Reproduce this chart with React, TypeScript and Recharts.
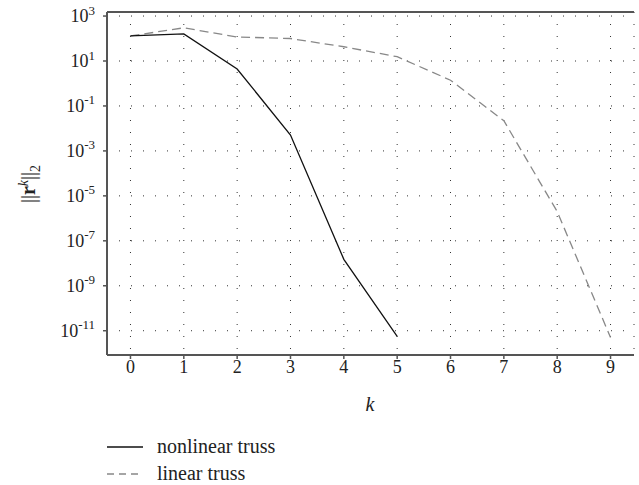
import { CartesianGrid, Line, LineChart, ReferenceLine, XAxis, YAxis } from "recharts";

// residual norm per iteration k
const iterations = [0, 1, 2, 3, 4, 5, 6, 7, 8, 9];
const nonlinearTruss = [130, 160, 4.4, 5.1e-3, 1.5e-8, 5.6e-12];
const linearTruss = [130, 300, 117, 100, 43, 15.5, 1.4, 0.022, 2e-6, 5e-12];

const xTicks = [0, 1, 2, 3, 4, 5, 6, 7, 8, 9];
const yTicks = [1e3, 1e1, 1e-1, 1e-3, 1e-5, 1e-7, 1e-9, 1e-11];

const FONT = "'Liberation Serif', 'DejaVu Serif', serif";
const AXIS = "#555";
const TEXT = "#222";

const rows = iterations.map((k, i) => ({
  k,
  nonlinear: nonlinearTruss[i],
  linear: linearTruss[i],
}));

const Y_DOMAIN: [number, number] = [Math.pow(10, -12.08), Math.pow(10, 3.18)];
const X_DOMAIN: [number, number] = [-0.44, 9.44];

function YTick({ x, y, payload }: any) {
  const exp = Math.round(Math.log10(payload.value));
  return (
    <text x={x - 6} y={y} textAnchor="end" fill={TEXT} fontFamily={FONT} fontSize={18}>
      <tspan dy="0.35em">10</tspan>
      <tspan dy="-0.6em" fontSize={13}>
        {exp}
      </tspan>
    </text>
  );
}

function XTick({ x, y, payload }: any) {
  return (
    <text x={x} y={y + 12} textAnchor="middle" fill={TEXT} fontFamily={FONT} fontSize={18}>
      {payload.value}
    </text>
  );
}

function LegendSwatch({ dashed }: { dashed?: boolean }) {
  return (
    <svg width={36} height={4} style={{ marginRight: 14 }}>
      <line
        x1={0}
        x2={36}
        y1={2}
        y2={2}
        stroke={dashed ? "#888" : "#111"}
        strokeWidth={1.5}
        strokeDasharray={dashed ? "7 5" : undefined}
      />
    </svg>
  );
}

export default function App() {
  return (
    <div style={{ position: "absolute", left: 0, top: 0, width: 639, height: 485, background: "#fff" }}>
      <LineChart width={639} height={485} data={rows} margin={{ top: 12, right: 5, left: 0, bottom: 0 }}>
        <CartesianGrid stroke="#333" strokeDasharray="1 11" strokeWidth={1} />
        <XAxis
          dataKey="k"
          type="number"
          domain={X_DOMAIN}
          ticks={xTicks}
          allowDataOverflow
          height={130}
          tick={<XTick />}
          tickSize={4}
          tickLine={{ stroke: AXIS, strokeWidth: 1.5 }}
          axisLine={{ stroke: AXIS, strokeWidth: 2 }}
        />
        <YAxis
          scale="log"
          type="number"
          domain={Y_DOMAIN}
          ticks={yTicks}
          allowDataOverflow
          width={107}
          tick={<YTick />}
          tickSize={4}
          tickLine={{ stroke: AXIS, strokeWidth: 1.5 }}
          axisLine={{ stroke: AXIS, strokeWidth: 2 }}
        />
        <YAxis
          yAxisId="right"
          orientation="right"
          scale="log"
          type="number"
          domain={Y_DOMAIN}
          width={0}
          tick={false}
          tickLine={false}
          axisLine={{ stroke: AXIS, strokeWidth: 2 }}
        />
        {/* top edge of the frame */}
        <ReferenceLine y={Y_DOMAIN[1]} stroke={AXIS} strokeWidth={2} ifOverflow="extendDomain" />
        <Line
          dataKey="linear"
          stroke="#888"
          strokeWidth={1.3}
          strokeDasharray="9 5"
          dot={false}
          isAnimationActive={false}
        />
        <Line
          dataKey="nonlinear"
          stroke="#111"
          strokeWidth={1.3}
          dot={false}
          isAnimationActive={false}
        />
      </LineChart>

      {/* y label */}
      <div
        style={{
          position: "absolute",
          left: 30,
          top: 184,
          transform: "translate(-50%, -50%) rotate(-90deg)",
          fontFamily: FONT,
          fontSize: 20,
          color: TEXT,
          whiteSpace: "nowrap",
        }}
      >
        ||<b>r</b>
        <sup style={{ fontStyle: "italic", fontSize: 14 }}>k</sup>||
        <sub style={{ fontSize: 14 }}>2</sub>
      </div>

      {/* x label */}
      <div
        style={{
          position: "absolute",
          left: 370,
          top: 404,
          transform: "translate(-50%, -50%)",
          fontFamily: FONT,
          fontStyle: "italic",
          fontSize: 20,
          color: TEXT,
        }}
      >
        k
      </div>

      {/* legend */}
      <div
        style={{
          position: "absolute",
          left: 107,
          top: 433,
          fontFamily: FONT,
          fontSize: 20,
          color: TEXT,
          lineHeight: "27px",
        }}
      >
        <div style={{ display: "flex", alignItems: "center" }}>
          <LegendSwatch />
          nonlinear truss
        </div>
        <div style={{ display: "flex", alignItems: "center" }}>
          <LegendSwatch dashed />
          linear truss
        </div>
      </div>
    </div>
  );
}
